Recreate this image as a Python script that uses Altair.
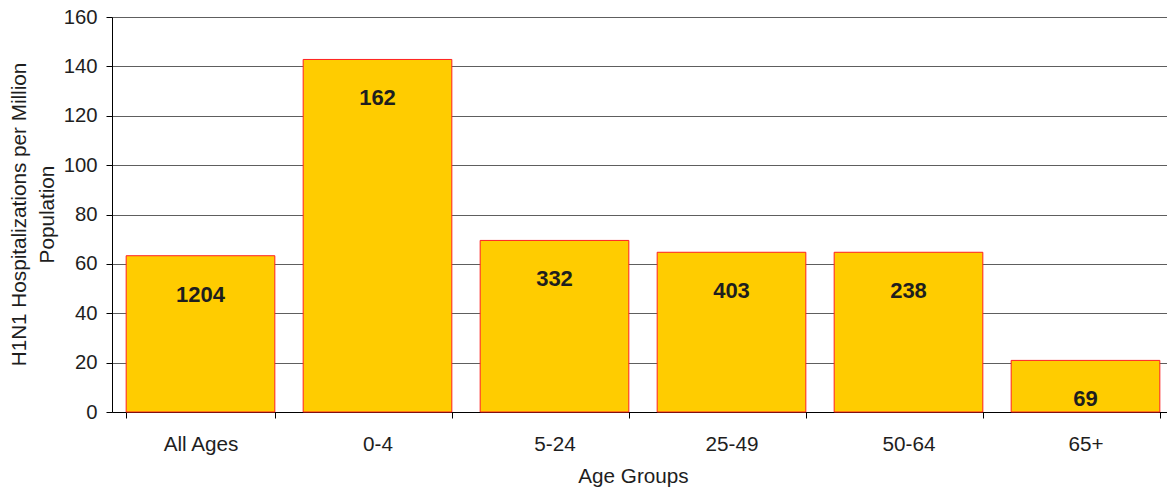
import altair as alt
import pandas as pd

# H1N1 hospitalization rates by age group, with case counts shown inside each bar
age_groups = ["All Ages", "0-4", "5-24", "25-49", "50-64", "65+"]
rate_per_million = [63.3, 142.8, 69.5, 64.7, 64.7, 20.9]
case_counts = [1204, 162, 332, 403, 238, 69]
y_ticks = [0, 20, 40, 60, 80, 100, 120, 140, 160]

df = pd.DataFrame({
    "age": age_groups,
    "rate": rate_per_million,
    "count": case_counts,
})

FONT = "Liberation Sans"
TEXT = "#1e1e1e"

x_enc = alt.X(
    "age:N",
    sort=age_groups,
    scale=alt.Scale(range=[0, 1062], paddingInner=0.16, paddingOuter=0.08),
    axis=alt.Axis(
        title="Age Groups",
        labelAngle=0,
        tickBand="extent",
        tickSize=6,
        tickColor="black",
        domainColor="black",
        labelBaseline="alphabetic",
        labelPadding=32,
        labelFont=FONT,
        labelFontSize=20.7,
        labelColor=TEXT,
        titleFont=FONT,
        titleFontSize=20.7,
        titleFontWeight="normal",
        titleColor=TEXT,
        titleX=521,
        titleY=70,
        titleAlign="center",
        titleBaseline="alphabetic",
        grid=False,
    ),
)

y_enc = alt.Y(
    "rate:Q",
    scale=alt.Scale(domain=[0, 160], nice=False),
    axis=alt.Axis(
        title=["H1N1 Hospitalizations per Million", "Population"],
        values=y_ticks,
        tickSize=6,
        tickColor="black",
        domainColor="black",
        gridColor="#5e5e5e",
        gridWidth=1,
        labelPadding=9,
        labelFont=FONT,
        labelFontSize=20.3,
        labelColor=TEXT,
        titleFont=FONT,
        titleFontSize=20.7,
        titleFontWeight="normal",
        titleColor=TEXT,
        titleAngle=-90,
        titleX=-87,
        titleY=197,
        titleAlign="center",
        titleBaseline="alphabetic",
        titleLineHeight=28,
    ),
)

bars = alt.Chart(df).mark_bar(
    color="#FFCC00", stroke="#FF2020", strokeWidth=1
).encode(x=x_enc, y=y_enc)

labels = alt.Chart(df).mark_text(
    font=FONT, fontSize=22, fontWeight="bold", color=TEXT,
    baseline="alphabetic", dy=46,
).encode(
    x=alt.X("age:N", sort=age_groups),
    y=alt.Y("rate:Q"),
    text=alt.Text("count:Q"),
)

chart = alt.layer(bars, labels).properties(
    width=1055,
    height=395,
    autosize=alt.AutoSizeParams(type="none"),
    padding={"left": 112, "top": 17, "right": 0, "bottom": 77},
).configure_view(strokeWidth=0).configure(background="white")

chart.save("out.html", embed_options={"renderer": "svg", "actions": False})
